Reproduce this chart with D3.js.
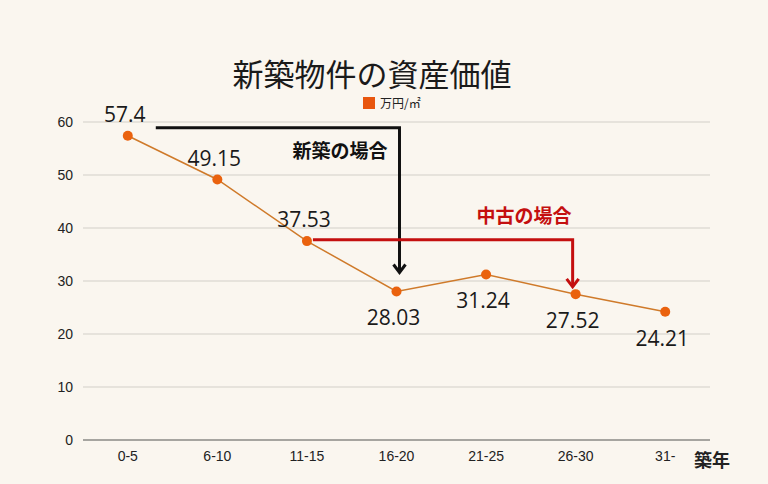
<!DOCTYPE html>
<html>
<head>
<meta charset="utf-8">
<script src="https://cdn.jsdelivr.net/npm/d3@7"></script>
<style>
  body { margin: 0; background: #faf6ef; }
  svg { display: block; }
</style>
</head>
<body>
<div id="chart"></div>
<script>
// data
const categories = ["0-5", "6-10", "11-15", "16-20", "21-25", "26-30", "31-"];
const values = [57.4, 49.15, 37.53, 28.03, 31.24, 27.52, 24.21];
const labelSide = ["above", "above", "above", "below", "below", "below", "below"];
const yTicks = [0, 10, 20, 30, 40, 50, 60];

const title = "新築物件の資産価値";
const legendLabel = "万円/㎡";
const xAxisTitle = "築年";

const width = 768, height = 484;
const margin = { top: 122, right: 58, bottom: 44, left: 83 };
const jp = "'Noto Sans CJK JP', 'Noto Sans', sans-serif";
const num = "'Liberation Sans', Arial, sans-serif";

const svg = d3.select("#chart").append("svg")
    .attr("width", width)
    .attr("height", height);

svg.append("rect")
    .attr("width", width)
    .attr("height", height)
    .attr("fill", "#faf6ef");

const x = d3.scaleBand()
    .domain(categories)
    .range([margin.left, width - margin.right]);

const y = d3.scaleLinear()
    .domain([0, 60])
    .range([height - margin.bottom, margin.top]);

const cx = c => x(c) + x.bandwidth() / 2;

// grid lines
svg.append("g")
    .selectAll("line")
    .data(yTicks)
    .enter().append("line")
    .attr("x1", margin.left)
    .attr("x2", width - margin.right)
    .attr("y1", d => y(d))
    .attr("y2", d => y(d))
    .attr("stroke", d => d === 0 ? "#8a8a86" : "#d2cfc8")
    .attr("stroke-width", d => d === 0 ? 1.5 : 1);

// y axis labels
const yAxis = svg.append("g")
    .attr("transform", `translate(${margin.left},0)`)
    .call(d3.axisLeft(y).tickValues(yTicks).tickSize(0).tickPadding(10));
yAxis.select(".domain").remove();
yAxis.selectAll("text")
    .attr("font-family", num)
    .attr("font-size", 14)
    .attr("fill", "#222");

// x axis labels
const xAxis = svg.append("g")
    .attr("transform", `translate(0,${height - margin.bottom})`)
    .call(d3.axisBottom(x).tickSize(0).tickPadding(11));
xAxis.select(".domain").remove();
xAxis.selectAll("text")
    .attr("font-family", num)
    .attr("font-size", 14)
    .attr("fill", "#222");

svg.append("text")
    .attr("x", 712)
    .attr("y", 467)
    .attr("text-anchor", "middle")
    .attr("font-family", jp)
    .attr("font-size", 18)
    .attr("font-weight", "bold")
    .attr("fill", "#222")
    .text(xAxisTitle);

// title + legend
svg.append("text")
    .attr("x", 372)
    .attr("y", 86)
    .attr("text-anchor", "middle")
    .attr("font-family", jp)
    .attr("font-size", 31)
    .attr("fill", "#1a1a1a")
    .text(title);

svg.append("rect")
    .attr("x", 363)
    .attr("y", 97)
    .attr("width", 12)
    .attr("height", 12)
    .attr("fill", "#e8560e");

svg.append("text")
    .attr("x", 380)
    .attr("y", 108)
    .attr("font-family", jp)
    .attr("font-size", 12)
    .attr("fill", "#222")
    .text(legendLabel);

// annotations: 新築 (black) and 中古 (red)
function bracket(x1, x2, yTop, yEnd, color) {
    svg.append("path")
        .attr("d", `M${x1},${yTop}H${x2}V${yEnd}`)
        .attr("fill", "none")
        .attr("stroke", color)
        .attr("stroke-width", 3);
    svg.append("path")
        .attr("d", `M${x2 - 6},${yEnd - 8}L${x2},${yEnd}L${x2 + 6},${yEnd - 8}`)
        .attr("fill", "none")
        .attr("stroke", color)
        .attr("stroke-width", 3)
        .attr("stroke-linejoin", "miter");
}

bracket(cx("0-5") + 28, cx("16-20") + 3, y(58.9), y(31.6), "#111");
svg.append("text")
    .attr("x", 340)
    .attr("y", 158)
    .attr("text-anchor", "middle")
    .attr("font-family", jp)
    .attr("font-size", 19)
    .attr("font-weight", "bold")
    .attr("fill", "#111")
    .text("新築の場合");

bracket(cx("11-15") + 6, cx("26-30") - 3, y(37.8), y(28.9), "#c40f0f");
svg.append("text")
    .attr("x", 524)
    .attr("y", 223)
    .attr("text-anchor", "middle")
    .attr("font-family", jp)
    .attr("font-size", 19)
    .attr("font-weight", "bold")
    .attr("fill", "#c40f0f")
    .text("中古の場合");

// series line + points
const line = d3.line()
    .x((d, i) => cx(categories[i]))
    .y(d => y(d));

svg.append("path")
    .datum(values)
    .attr("d", line)
    .attr("fill", "none")
    .attr("stroke", "#cf7a2a")
    .attr("stroke-width", 1.5);

svg.append("g")
    .selectAll("circle")
    .data(values)
    .enter().append("circle")
    .attr("cx", (d, i) => cx(categories[i]))
    .attr("cy", d => y(d))
    .attr("r", 5)
    .attr("fill", "#ea620e");

// value labels
svg.append("g")
    .selectAll("text")
    .data(values)
    .enter().append("text")
    .attr("x", (d, i) => cx(categories[i]) - 3)
    .attr("y", (d, i) => y(d) + (labelSide[i] === "above" ? -14 : 34))
    .attr("text-anchor", "middle")
    .attr("font-family", "'Open Sans', 'Noto Sans', sans-serif")
    .attr("font-size", 21)
    .attr("fill", "#1a1a1a")
    .text(d => d);
</script>
</body>
</html>
